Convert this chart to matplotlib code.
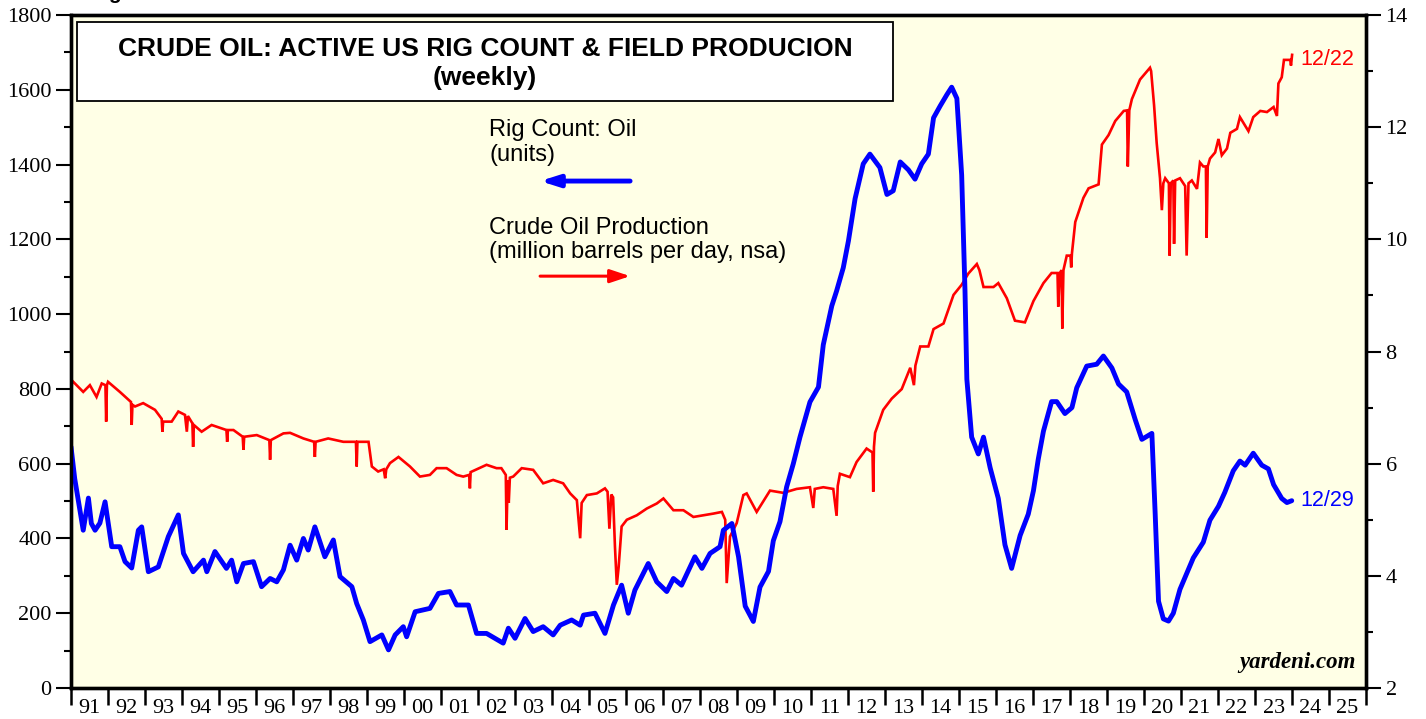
import numpy as np
import matplotlib
matplotlib.use("Agg")
import matplotlib.pyplot as plt
from matplotlib.patches import Rectangle

# Rig count: oil (units), left scale
rig_years = [1991.0, 1991.1, 1991.33, 1991.47, 1991.55, 1991.65, 1991.78, 1991.92, 1992.1, 1992.32,
             1992.46, 1992.64, 1992.82, 1992.91, 1993.09, 1993.36, 1993.63, 1993.9, 1994.04, 1994.3,
             1994.58, 1994.67, 1994.89, 1995.2, 1995.34, 1995.48, 1995.66, 1995.93, 1996.15, 1996.38,
             1996.56, 1996.74, 1996.92, 1997.1, 1997.28, 1997.41, 1997.59, 1997.68, 1997.86, 1998.09,
             1998.27, 1998.59, 1998.72, 1998.9, 1999.08, 1999.4, 1999.58, 1999.76, 1999.98, 2000.07,
             2000.3, 2000.7, 2000.93, 2001.24, 2001.42, 2001.74, 2001.96, 2002.23, 2002.68, 2002.82,
             2003.0, 2003.27, 2003.49, 2003.76, 2004.03, 2004.22, 2004.53, 2004.76, 2004.85, 2005.16,
             2005.43, 2005.66, 2005.88, 2006.06, 2006.24, 2006.6, 2006.83, 2007.1, 2007.28, 2007.5,
             2007.86, 2008.05, 2008.27, 2008.54, 2008.63, 2008.86, 2009.04, 2009.22, 2009.44, 2009.62,
             2009.85, 2009.98, 2010.16, 2010.34, 2010.52, 2010.7, 2010.97, 2011.2, 2011.33, 2011.56,
             2011.69, 2011.87, 2012.01, 2012.19, 2012.41, 2012.59, 2012.86, 2013.05, 2013.22, 2013.41,
             2013.63, 2013.81, 2013.99, 2014.17, 2014.31, 2014.49, 2014.67, 2014.8, 2014.94, 2015.07,
             2015.16, 2015.21, 2015.34, 2015.52, 2015.66, 2015.84, 2016.06, 2016.24, 2016.42, 2016.65,
             2016.87, 2017.01, 2017.14, 2017.28, 2017.5, 2017.64, 2017.86, 2018.05, 2018.18, 2018.45,
             2018.72, 2018.9, 2019.13, 2019.31, 2019.53, 2019.76, 2019.94, 2020.21, 2020.3, 2020.39,
             2020.52, 2020.66, 2020.79, 2020.97, 2021.15, 2021.33, 2021.6, 2021.78, 2022.01, 2022.18,
             2022.41, 2022.59, 2022.73, 2022.95, 2023.18, 2023.36, 2023.5, 2023.72, 2023.86, 2023.99]
rig_count = [645, 560, 422, 508, 440, 422, 441, 498, 378, 378,
             338, 321, 422, 431, 311, 324, 405, 463, 360, 311,
             342, 311, 365, 320, 342, 284, 333, 338, 271, 293,
             284, 316, 382, 342, 400, 369, 431, 405, 351, 396,
             298, 271, 226, 182, 124, 142, 102, 142, 164, 137,
             204, 213, 253, 258, 222, 222, 146, 146, 120, 160,
             133, 186, 151, 164, 142, 168, 182, 168, 195, 200,
             146, 222, 275, 200, 262, 333, 284, 258, 293, 275,
             351, 320, 360, 378, 422, 440, 351, 219, 178, 270,
             312, 394, 445, 538, 600, 671, 765, 805, 918, 1022,
             1062, 1124, 1196, 1309, 1402, 1428, 1392, 1320, 1330, 1407,
             1386, 1361, 1402, 1428, 1525, 1557, 1587, 1607, 1577, 1372,
             1062, 826, 671, 626, 671, 589, 507, 383, 320, 408,
             465, 528, 612, 687, 766, 766, 734, 750, 803, 861,
             866, 888, 856, 813, 792, 718, 665, 681, 465, 232,
             185, 179, 200, 264, 306, 348, 390, 449, 486, 523,
             581, 607, 596, 628, 596, 586, 544, 507, 496, 501]

# Crude oil production (million barrels per day, nsa), right scale
prod_years = [1991.0, 1991.01, 1991.03, 1991.33, 1991.51, 1991.69, 1991.83, 1991.93, 1991.95, 1991.97,
              1992.0, 1992.32, 1992.55, 1992.62, 1992.64, 1992.66, 1992.73, 1992.95, 1993.27, 1993.45,
              1993.47, 1993.49, 1993.72, 1993.9, 1994.08, 1994.13, 1994.16, 1994.28, 1994.3, 1994.32,
              1994.53, 1994.8, 1995.07, 1995.2, 1995.22, 1995.24, 1995.39, 1995.64, 1995.66, 1995.68,
              1996.02, 1996.36, 1996.38, 1996.4, 1996.74, 1996.92, 1997.28, 1997.57, 1997.59, 1997.61,
              1997.95, 1998.36, 1998.7, 1998.72, 1998.74, 1999.04, 1999.13, 1999.3, 1999.45, 1999.49,
              1999.52, 1999.62, 1999.85, 2000.16, 2000.43, 2000.7, 2000.88, 2001.15, 2001.42, 2001.6,
              2001.76, 2001.78, 2001.8, 2002.23, 2002.5, 2002.63, 2002.75, 2002.77, 2002.8, 2002.83,
              2002.86, 2002.95, 2003.18, 2003.49, 2003.76, 2004.03, 2004.3, 2004.49, 2004.67, 2004.76,
              2004.8, 2004.94, 2005.21, 2005.43, 2005.5, 2005.55, 2005.6, 2005.65, 2005.7, 2005.75,
              2005.8, 2005.88, 2006.02, 2006.29, 2006.56, 2006.83, 2007.01, 2007.28, 2007.55, 2007.82,
              2008.09, 2008.36, 2008.59, 2008.68, 2008.72, 2008.81, 2008.99, 2009.17, 2009.26, 2009.53,
              2009.89, 2010.25, 2010.61, 2010.97, 2011.06, 2011.1, 2011.33, 2011.6, 2011.69, 2011.72,
              2011.78, 2012.05, 2012.23, 2012.5, 2012.66, 2012.68, 2012.7, 2012.73, 2012.95, 2013.18,
              2013.45, 2013.68, 2013.78, 2013.82, 2013.95, 2014.17, 2014.31, 2014.58, 2014.85, 2015.07,
              2015.25, 2015.48, 2015.55, 2015.66, 2015.93, 2016.06, 2016.29, 2016.51, 2016.78, 2017.01,
              2017.28, 2017.5, 2017.66, 2017.68, 2017.72, 2017.77, 2017.79, 2017.82, 2017.91, 2018.01,
              2018.03, 2018.05, 2018.14, 2018.36, 2018.5, 2018.77, 2018.86, 2019.04, 2019.22, 2019.45,
              2019.54, 2019.56, 2019.6, 2019.67, 2019.89, 2020.16, 2020.19, 2020.27, 2020.34, 2020.43,
              2020.48, 2020.52, 2020.57, 2020.67, 2020.69, 2020.72, 2020.79, 2020.81, 2020.84, 2020.97,
              2021.11, 2021.15, 2021.2, 2021.29, 2021.43, 2021.51, 2021.6, 2021.67, 2021.69, 2021.72,
              2021.78, 2021.92, 2022.01, 2022.1, 2022.24, 2022.33, 2022.51, 2022.59, 2022.82, 2022.95,
              2023.14, 2023.32, 2023.5, 2023.59, 2023.63, 2023.72, 2023.78, 2023.95, 2023.97, 2024.0]
production = [7.49, 7.30, 7.48, 7.28, 7.40, 7.19, 7.43, 7.40, 6.75, 7.40,
              7.46, 7.28, 7.14, 7.10, 6.69, 7.05, 7.02, 7.08, 6.96, 6.80,
              6.57, 6.75, 6.75, 6.93, 6.87, 6.57, 6.85, 6.72, 6.30, 6.69,
              6.57, 6.69, 6.63, 6.60, 6.39, 6.60, 6.60, 6.48, 6.25, 6.48,
              6.51, 6.42, 6.07, 6.42, 6.54, 6.55, 6.45, 6.39, 6.12, 6.39,
              6.45, 6.39, 6.39, 5.95, 6.39, 6.39, 5.95, 5.86, 5.90, 5.74,
              5.90, 6.01, 6.12, 5.95, 5.77, 5.80, 5.92, 5.92, 5.80, 5.77,
              5.80, 5.56, 5.85, 5.98, 5.92, 5.92, 5.80, 4.82, 5.70, 5.30,
              5.75, 5.77, 5.92, 5.89, 5.65, 5.71, 5.65, 5.47, 5.35, 4.67,
              5.30, 5.44, 5.47, 5.56, 5.50, 4.84, 5.45, 5.40, 4.52, 3.84,
              4.16, 4.88, 5.00, 5.08, 5.20, 5.29, 5.38, 5.17, 5.17, 5.05,
              5.08, 5.11, 5.14, 5.00, 3.87, 4.70, 4.94, 5.44, 5.47, 5.14,
              5.52, 5.48, 5.55, 5.58, 5.21, 5.55, 5.58, 5.55, 5.07, 5.60,
              5.82, 5.76, 6.03, 6.27, 6.20, 5.50, 6.30, 6.55, 6.96, 7.16,
              7.33, 7.71, 7.40, 7.75, 8.09, 8.09, 8.40, 8.50, 9.01, 9.19,
              9.39, 9.56, 9.45, 9.15, 9.15, 9.22, 8.95, 8.55, 8.52, 8.90,
              9.22, 9.40, 9.40, 8.80, 9.40, 9.45, 8.41, 9.45, 9.71, 9.71,
              9.50, 9.75, 10.31, 10.74, 10.91, 10.98, 11.69, 11.86, 12.11, 12.29,
              12.30, 11.30, 12.30, 12.50, 12.85, 13.06, 13.00, 12.39, 11.72, 11.09,
              10.52, 11.00, 11.09, 11.00, 9.71, 11.00, 11.05, 9.92, 11.05, 11.09,
              10.95, 9.71, 11.00, 11.05, 10.90, 11.37, 11.30, 11.30, 10.03, 11.30,
              11.44, 11.55, 11.79, 11.50, 11.62, 11.90, 11.97, 12.18, 11.93, 12.18,
              12.29, 12.27, 12.36, 12.20, 12.78, 12.89, 13.20, 13.20, 13.10, 13.29]

year_labels = ["91", "92", "93", "94", "95", "96", "97", "98", "99", "00", "01", "02",
               "03", "04", "05", "06", "07", "08", "09", "10", "11", "12", "13", "14",
               "15", "16", "17", "18", "19", "20", "21", "22", "23", "24", "25"]

serif = "Liberation Serif"
sans = "Liberation Sans"

fig = plt.figure(figsize=(14.26, 7.19), dpi=100)
fig.patch.set_facecolor("white")
ax = fig.add_axes([0.0498, 0.0431, 0.9082, 0.9360])
ax2 = ax.twinx()

# rig count axis on top of production axis
ax.set_zorder(ax2.get_zorder() + 1)
ax.patch.set_visible(False)
ax2.patch.set_visible(True)
ax2.patch.set_facecolor("#FFFFE6")

ax2.plot(prod_years, production, color="#FF0000", lw=1.9, solid_joinstyle="miter")
ax.plot(rig_years, rig_count, color="#0000FF", lw=3.5, solid_capstyle="round")

ax.set_xlim(1991, 2026)
ax.set_ylim(0, 1800)
ax2.set_ylim(2, 14)

ax.set_xticks(np.arange(1991, 2027))
ax.set_xticklabels([])
ax.set_xticks(np.arange(1991.5, 2026), minor=True)
ax.set_xticklabels(year_labels, minor=True)
ax.tick_params(axis="x", which="major", direction="out", length=12, width=1.8)
ax.tick_params(axis="x", which="minor", length=0, pad=8, labelsize=16)

ax.set_yticks(np.arange(0, 1801, 200))
ax.set_yticks(np.arange(100, 1800, 200), minor=True)
ax.tick_params(axis="y", which="major", direction="out", length=11, width=1.5, labelsize=16, pad=3)
ax.tick_params(axis="y", which="minor", direction="out", length=5, width=1.5)

ax2.set_yticks(np.arange(2, 15, 2))
ax2.set_yticks(np.arange(3, 14, 2), minor=True)
ax2.tick_params(axis="y", which="major", direction="out", length=11, width=1.5, labelsize=16, pad=3)
ax2.tick_params(axis="y", which="minor", direction="out", length=5, width=1.5)

for a in (ax, ax2):
    for lab in a.get_xticklabels(minor=True) + a.get_yticklabels():
        lab.set_fontfamily(serif)
    for s in a.spines.values():
        s.set_linewidth(2.4)
        s.set_color("black")

# title box
ax.add_patch(Rectangle((0.0046, 0.872), 0.630, 0.1176, transform=ax.transAxes,
                       facecolor="white", edgecolor="black", lw=1.3, zorder=5))
ax.text(0.3197, 0.949, "CRUDE OIL: ACTIVE US RIG COUNT & FIELD PRODUCION", transform=ax.transAxes,
        ha="center", va="center", fontsize=19, fontweight="bold", family=sans, zorder=6)
ax.text(0.3197, 0.907, "(weekly)", transform=ax.transAxes,
        ha="center", va="center", fontsize=19, fontweight="bold", family=sans, zorder=6)

# legend texts and arrows
ax.text(0.3228, 0.829, "Rig Count: Oil", transform=ax.transAxes, ha="left", va="center",
        fontsize=17, family=sans)
ax.text(0.3228, 0.792, "(units)", transform=ax.transAxes, ha="left", va="center",
        fontsize=17, family=sans)
ax.annotate("", xy=(0.3622, 0.7533), xytext=(0.4317, 0.7533), xycoords="axes fraction",
            arrowprops=dict(arrowstyle="-|>,head_length=1.1,head_width=0.35",
                            color="#0000FF", lw=3.5, shrinkA=0, shrinkB=0))
ax.text(0.3228, 0.6835, "Crude Oil Production", transform=ax.transAxes, ha="left", va="center",
        fontsize=17, family=sans)
ax.text(0.3228, 0.648, "(million barrels per day, nsa)", transform=ax.transAxes, ha="left", va="center",
        fontsize=17, family=sans)
ax.annotate("", xy=(0.4317, 0.612), xytext=(0.3622, 0.612), xycoords="axes fraction",
            arrowprops=dict(arrowstyle="-|>,head_length=1.2,head_width=0.4",
                            color="#FF0000", lw=2.2, shrinkA=0, shrinkB=0))

# end labels
ax2.annotate("12/22", xy=(prod_years[-1], production[-1]), xytext=(6, -3), textcoords="offset points",
             ha="left", va="center", color="#FF0000", fontsize=15.5, family=sans)
ax.annotate("12/29", xy=(rig_years[-1], rig_count[-1]), xytext=(6, 0), textcoords="offset points",
            ha="left", va="center", color="#0000FF", fontsize=15.5, family=sans)

ax.text(0.992, 0.022, "yardeni.com", transform=ax.transAxes, ha="right", va="bottom",
        fontsize=16.5, fontweight="bold", fontstyle="italic", family=serif)

# header text clipped at the top edge of the picture, only the descender shows
fig.text(0.062, 1.0015, "Rigs", ha="left", va="baseline", fontsize=15, fontweight="bold", family=sans)

fig.savefig("out.png", dpi=100, facecolor="white")
